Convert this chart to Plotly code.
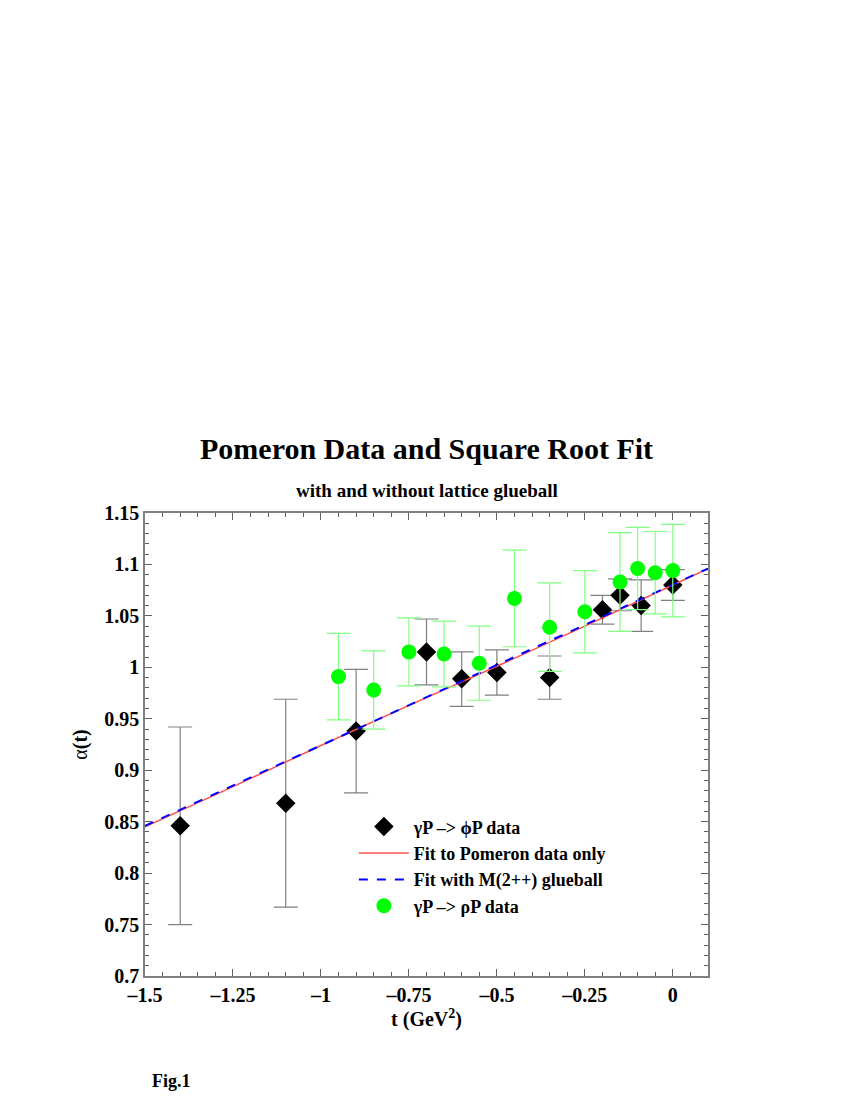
import plotly.graph_objects as go

# gamma P -> phi P data
phi_t = [-1.4, -1.1, -0.9, -0.7, -0.6, -0.5, -0.35, -0.2, -0.15, -0.09, 0.0]
phi_a = [0.846, 0.868, 0.938, 1.015, 0.989, 0.995, 0.990, 1.056, 1.070, 1.060, 1.080]
phi_hi = [0.942, 0.969, 0.998, 1.047, 1.015, 1.017, 1.011, 1.070, 1.086, 1.085, 1.095]
phi_lo = [0.750, 0.767, 0.878, 0.983, 0.962, 0.973, 0.969, 1.042, 1.055, 1.035, 1.065]

# gamma P -> rho P data
rho_t = [-0.95, -0.85, -0.75, -0.65, -0.55, -0.45, -0.35, -0.25, -0.15, -0.1, -0.05, 0.0]
rho_a = [0.991, 0.978, 1.015, 1.013, 1.004, 1.067, 1.039, 1.054, 1.083, 1.096, 1.092, 1.094]
rho_hi = [1.033, 1.016, 1.048, 1.045, 1.040, 1.114, 1.082, 1.094, 1.131, 1.136, 1.132, 1.139]
rho_lo = [0.949, 0.940, 0.982, 0.981, 0.968, 1.020, 0.996, 1.014, 1.035, 1.056, 1.052, 1.049]

# fit curves
fit_t = [-1.5, -1.25, -1.0, -0.75, -0.5, -0.25, 0.0, 0.1]
fit_pom = [0.845, 0.884, 0.924, 0.963, 1.001, 1.040, 1.080, 1.096]
fit_glue = [0.846, 0.885, 0.924, 0.963, 1.002, 1.041, 1.080, 1.096]

x_ticks = [-1.5, -1.25, -1, -0.75, -0.5, -0.25, 0]
x_labels = ["–1.5", "–1.25", "–1", "–0.75", "–0.5", "–0.25", "0"]
y_ticks = [0.7, 0.75, 0.8, 0.85, 0.9, 0.95, 1.0, 1.05, 1.1, 1.15]
y_labels = ["0.7", "0.75", "0.8", "0.85", "0.9", "0.95", "1", "1.05", "1.1", "1.15"]

font = "Liberation Serif"

fig = go.Figure()
fig.add_trace(go.Scatter(
    x=phi_t, y=phi_a, mode="markers", name="γP –> ϕP data",
    marker=dict(symbol="diamond", size=15, color="black"),
    error_y=dict(type="data", symmetric=False,
                 array=[h - a for h, a in zip(phi_hi, phi_a)],
                 arrayminus=[a - l for a, l in zip(phi_a, phi_lo)],
                 color="#808080", thickness=1.2, width=12),
))
fig.add_trace(go.Scatter(
    x=fit_t, y=fit_pom, mode="lines", name="Fit to Pomeron data only",
    line=dict(color="#ff5050", width=1.5),
))
fig.add_trace(go.Scatter(
    x=fit_t, y=fit_glue, mode="lines", name="Fit with M(2++) glueball",
    line=dict(color="#0000ff", width=2, dash="dash"),
))
fig.add_trace(go.Scatter(
    x=rho_t, y=rho_a, mode="markers", name="γP –> ρP data",
    marker=dict(symbol="circle", size=15, color="#00ff00"),
    error_y=dict(type="data", symmetric=False,
                 array=[h - a for h, a in zip(rho_hi, rho_a)],
                 arrayminus=[a - l for a, l in zip(rho_a, rho_lo)],
                 color="#80ff80", thickness=1.2, width=12),
))

axis_common = dict(
    showline=True, linecolor="#808080", linewidth=1.5, mirror="ticks",
    ticks="inside", tickcolor="#606060", ticklen=7, tickwidth=1,
    showgrid=False, zeroline=False,
    tickfont=dict(family=font, size=20, color="black", weight="bold"),
)

fig.update_xaxes(
    range=[-1.5, 0.1], tickmode="array", tickvals=x_ticks, ticktext=x_labels,
    minor=dict(dtick=0.05, ticklen=4, tickcolor="#606060", ticks="inside"),
    title=dict(text="t (GeV<sup>2</sup>)", standoff=4,
               font=dict(family=font, size=20, color="black", weight="bold")),
    **axis_common,
)
fig.update_yaxes(
    range=[0.7, 1.15], tickmode="array", tickvals=y_ticks, ticktext=y_labels,
    minor=dict(dtick=0.01, ticklen=4, tickcolor="#606060", ticks="inside"),
    title=dict(text="<span style='font-weight:normal'>α</span>(t)", standoff=11,
               font=dict(family=font, size=20, color="black", weight="bold")),
    **axis_common,
)

fig.update_layout(
    width=850, height=1100,
    margin=dict(l=137, r=150, t=505, b=132),
    paper_bgcolor="white", plot_bgcolor="white",
    showlegend=True,
    legend=dict(x=0.371, y=0.362, xanchor="left", yanchor="top",
                bgcolor="rgba(0,0,0,0)", borderwidth=0,
                font=dict(family=font, size=18, color="black", weight="bold"),
                itemwidth=50, tracegroupgap=0),
    annotations=[
        dict(text="Pomeron Data and Square Root Fit", xref="paper", yref="paper",
             x=0.5, y=1.0, yshift=65, xanchor="center", yanchor="middle", showarrow=False,
             font=dict(family=font, size=30, color="black", weight="bold")),
        dict(text="with and without lattice glueball", xref="paper", yref="paper",
             x=0.5, y=1.0, yshift=23, xanchor="center", yanchor="middle", showarrow=False,
             font=dict(family=font, size=19, color="black", weight="bold")),
        dict(text="Fig.1", xref="paper", yref="paper",
             x=0.0, y=0.0, xshift=5, yshift=-105, xanchor="left", yanchor="middle",
             showarrow=False,
             font=dict(family=font, size=18, color="black", weight="bold")),
    ],
)

fig.write_html("out.html")
